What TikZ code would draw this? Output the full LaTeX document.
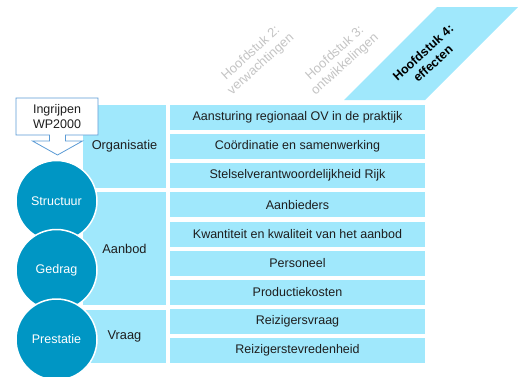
\documentclass[tikz,border=0pt]{standalone}
\usepackage{fontspec}
\setmainfont{Liberation Sans}
\definecolor{lightcyan}{HTML}{A0E8FC}
\definecolor{darkteal}{HTML}{0096C4}
\definecolor{calloutline}{HTML}{5B9BD5}
\definecolor{paletext}{HTML}{C4C4C4}
\definecolor{maintext}{HTML}{1E1E1E}
\begin{document}
\begin{tikzpicture}[x=1pt,y=-1pt,
  rowbox/.style={fill=lightcyan,inner sep=0pt,outer sep=0pt,minimum width=255pt,minimum height=25pt,font=\fontsize{12.5}{14}\selectfont,text=maintext},
  groupbox/.style={fill=lightcyan,inner sep=0pt,outer sep=0pt,minimum width=83pt,font=\fontsize{12.8}{14}\selectfont,text=maintext},
  ring/.style={circle,fill=darkteal,draw=white,line width=1.5pt,minimum size=81pt,inner sep=0pt,text=white,font=\fontsize{12.5}{14}\selectfont},
  chapter/.style={rotate=42,align=center,font=\fontsize{13}{15}\selectfont},
]
\useasboundingbox (0,0) rectangle (521,376);
% chapter header
\fill[lightcyan] (344,100) -- (425,100) -- (518,7) -- (437,7) -- cycle;
\node[chapter,text=paletext] (h2) at (256,59) {Hoofdstuk 2:\\verwachtingen};
\node[chapter,text=paletext] (h3) at (340,59) {Hoofdstuk 3:\\ontwikkelingen};
\node[chapter,text=black,font=\bfseries\fontsize{12.5}{15}\selectfont] (h4) at (428,58) {Hoofdstuk 4:\\effecten};
% group boxes
\node[groupbox,minimum height=83.25pt] (org) at (124.5,146.6) {Organisatie};
\node[groupbox,minimum height=112.4pt] (aan) at (124.5,248.6) {Aanbod};
\node[groupbox,minimum height=53.4pt] (vra) at (124.5,336.4) {Vraag};
% rows
\node[rowbox] (r1) at (297.5,117.5) {Aansturing regionaal OV in de praktijk};
\node[rowbox] (r2) at (297.5,146.6) {Coördinatie en samenwerking};
\node[rowbox] (r3) at (297.5,175.75) {Stelselverantwoordelijkheid Rijk};
\node[rowbox] (r4) at (297.5,204.9) {Aanbieders};
\node[rowbox] (r5) at (297.5,234) {Kwantiteit en kwaliteit van het aanbod};
\node[rowbox] (r6) at (297.5,263.1) {Personeel};
\node[rowbox] (r7) at (297.5,292.25) {Productiekosten};
\node[rowbox] (r8) at (297.5,321.4) {Reizigersvraag};
\node[rowbox] (r9) at (297.5,350.5) {Reizigerstevredenheid};
% circles
\node[ring] (structuur) at (56.5,201) {Structuur};
\node[ring] (gedrag) at (56.5,270) {Gedrag};
\node[ring] (prestatie) at (56.5,339.5) {Prestatie};
% callout
\draw[calloutline,fill=white,line width=0.8pt,line join=miter]
  (16,98) -- (98,98) -- (98,135) -- (65.5,135) -- (65.5,141) -- (82.5,141) -- (57.5,155)
  -- (32.5,141) -- (49.5,141) -- (49.5,135) -- (16,135) -- cycle;
\node[align=center,text=maintext,font=\fontsize{12.5}{15}\selectfont] (ingrijpen) at (57,117) {Ingrijpen\\WP2000};
\end{tikzpicture}
\end{document}
